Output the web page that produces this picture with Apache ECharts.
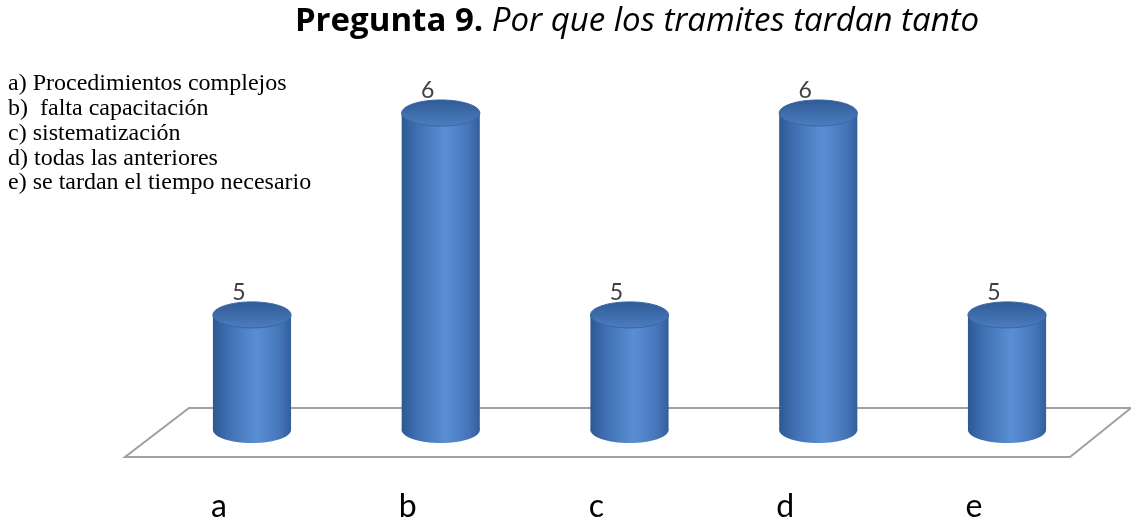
<!DOCTYPE html>
<html>
<head>
<meta charset="utf-8">
<script src="https://cdn.jsdelivr.net/npm/echarts@6/dist/echarts.min.js"></script>
<style>
  html, body { margin: 0; padding: 0; background: #ffffff; }
  #chart { width: 1131px; height: 523px; }
</style>
</head>
<body>
<div id="chart"></div>
<script>
// Answers to question 9 and the number of responses for each
const categories = ['a', 'b', 'c', 'd', 'e'];
const counts = [5, 6, 5, 6, 5];
const answerTexts = [
  'a) Procedimientos complejos',
  'b)  falta capacitación',
  'c) sistematización',
  'd) todas las anteriores',
  'e) se tardan el tiempo necesario'
];
const titleBold = 'Pregunta 9.';
const titleItalic = ' Por que los tramites tardan tanto';

// value axis starts above zero, like the spreadsheet's automatic range
const axisMin = 4.43;
const axisMax = 6;

const chart = echarts.init(document.getElementById('chart'));

const bodyGradient = new echarts.graphic.LinearGradient(0, 0, 1, 0, [
  { offset: 0, color: '#2d5892' },
  { offset: 0.18, color: '#3e6eb1' },
  { offset: 0.55, color: '#5a8ed4' },
  { offset: 0.85, color: '#4676ba' },
  { offset: 1, color: '#335e9b' }
]);
const capGradient = new echarts.graphic.LinearGradient(0, 0, 0, 1, [
  { offset: 0, color: '#2f5a95' },
  { offset: 1, color: '#4d7ec1' }
]);

function renderCylinder(params, api) {
  const idx = api.value(0);
  const val = api.value(1);
  const top = api.coord([idx, val]);
  const base = api.coord([idx, axisMin]);
  const bandW = api.size([1, 0])[0];
  const rx = bandW * 0.207;
  const ry = rx / 3;
  const cx = top[0];
  return {
    type: 'group',
    children: [
      {
        type: 'rect',
        shape: { x: cx - rx, y: top[1], width: rx * 2, height: base[1] - top[1] },
        style: { fill: bodyGradient }
      },
      {
        type: 'ellipse',
        shape: { cx: cx, cy: base[1], rx: rx, ry: ry },
        style: { fill: bodyGradient }
      },
      {
        type: 'ellipse',
        shape: { cx: cx, cy: top[1], rx: rx, ry: ry },
        style: { fill: capGradient, stroke: '#3a66a3', lineWidth: 1 }
      },
      {
        type: 'text',
        style: {
          text: String(val),
          x: cx - 13,
          y: top[1] - ry - 9,
          align: 'center',
          verticalAlign: 'middle',
          fontFamily: 'Lato',
          fontSize: 23,
          fill: '#404040'
        }
      }
    ]
  };
}

chart.setOption({
  animation: false,
  backgroundColor: '#ffffff',
  title: [
    {
      text: '{b|' + titleBold + '}{i|' + titleItalic + '}',
      left: 632,
      top: 0,
      textAlign: 'center',
      textStyle: {
        rich: {
          b: { fontFamily: 'Open Sans', fontWeight: 'bold', fontSize: 33, color: '#000000' },
          i: { fontFamily: 'Open Sans', fontWeight: 'normal', fontStyle: 'italic', fontSize: 33, color: '#000000' }
        }
      }
    },
    {
      text: answerTexts.join('\n'),
      left: 8,
      top: 71.5,
      padding: 0,
      textStyle: {
        fontFamily: 'Liberation Serif',
        fontWeight: 'normal',
        fontSize: 24,
        lineHeight: 24.8,
        color: '#000000'
      }
    }
  ],
  graphic: [
    {
      type: 'polygon',
      z: 0,
      silent: true,
      shape: { points: [[189, 408], [1131, 408], [1070, 457], [125, 457]] },
      style: { fill: '#ffffff', stroke: '#a0a0a0', lineWidth: 2 }
    }
  ],
  grid: { left: 157.6, right: 29.6, top: 113, bottom: 93 },
  xAxis: {
    type: 'category',
    data: categories,
    axisLine: { show: false },
    axisTick: { show: false },
    axisLabel: {
      margin: 61,
      fontFamily: 'Lato',
      fontSize: 32,
      color: '#000000',
      padding: [0, 66, 0, 0]
    }
  },
  yAxis: {
    type: 'value',
    min: axisMin,
    max: axisMax,
    show: false,
    splitLine: { show: false }
  },
  series: [
    {
      type: 'custom',
      z: 5,
      renderItem: renderCylinder,
      encode: { x: 0, y: 1 },
      data: counts.map((v, i) => [i, v])
    }
  ]
});
</script>
</body>
</html>
